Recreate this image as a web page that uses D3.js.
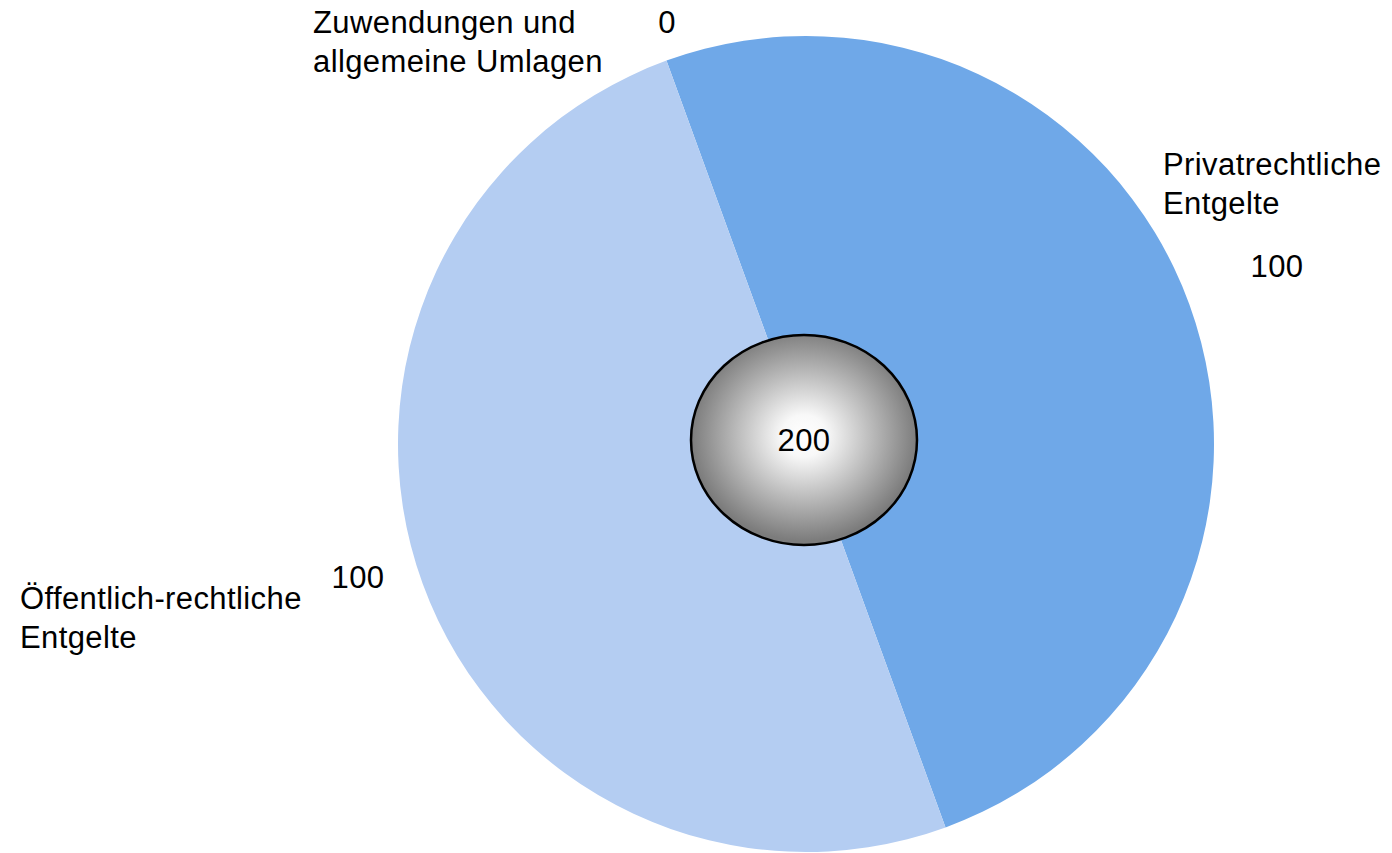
<!DOCTYPE html>
<html>
<head>
  <meta charset="utf-8">
  <title>Entgelte</title>
  <script src="https://cdnjs.cloudflare.com/ajax/libs/d3/7.8.5/d3.min.js"></script>
  <style>
    body { margin: 0; background: #fff; }
    svg { display: block; }
    text { font-family: "Liberation Sans", Arial, sans-serif; font-size: 31px; fill: #000; letter-spacing: 0.4px; }
  </style>
</head>
<body>
  <svg id="chart" width="1392" height="853"></svg>
  <script>
    // data
    const categories = ["Zuwendungen und allgemeine Umlagen", "Privatrechtliche Entgelte", "Öffentlich-rechtliche Entgelte"];
    const labelLines = [["Zuwendungen und", "allgemeine Umlagen"], ["Privatrechtliche", "Entgelte"], ["Öffentlich-rechtliche", "Entgelte"]];
    const values = [0, 100, 100];
    const colors = ["#4f81bd", "#6fa8e8", "#b4cdf2"];

    // where the Excel-style labels sit (name block and value)
    const labelLayout = [
      { nx: 313, ny: 33, vx: 667, vy: 33 },
      { nx: 1163, ny: 175, vx: 1277, vy: 277 },
      { nx: 20, ny: 609, vx: 358, vy: 588 }
    ];

    const cx = 806, cy = 444, r = 408;
    const svg = d3.select('#chart');

    const deg = Math.PI / 180;
    const pie = d3.pie().sort(null).value(d => d)
      .startAngle(-20 * deg).endAngle(340 * deg);
    const arc = d3.arc().innerRadius(0).outerRadius(r);

    const g = svg.append('g').attr('transform', `translate(${cx},${cy})`);
    g.selectAll('path')
      .data(pie(values))
      .join('path')
      .attr('d', arc)
      .attr('fill', (d, i) => colors[i]);

    // labels
    const lab = svg.append('g');
    labelLayout.forEach((p, i) => {
      const t = lab.append('text').attr('x', p.nx).attr('y', p.ny);
      labelLines[i].forEach((line, j) => {
        t.append('tspan').attr('x', p.nx).attr('dy', j === 0 ? 0 : 39).text(line);
      });
      lab.append('text').attr('x', p.vx).attr('y', p.vy)
        .attr('text-anchor', 'middle').text(values[i]);
    });

    // centre bubble with total
    const defs = svg.append('defs');
    const grad = defs.append('radialGradient').attr('id', 'ball')
      .attr('cx', '50%').attr('cy', '48%').attr('r', '50%');
    grad.append('stop').attr('offset', '0%').attr('stop-color', '#ffffff');
    grad.append('stop').attr('offset', '20%').attr('stop-color', '#f8f8f8');
    grad.append('stop').attr('offset', '60%').attr('stop-color', '#bababa');
    grad.append('stop').attr('offset', '100%').attr('stop-color', '#7c7c7c');

    svg.append('ellipse')
      .attr('cx', 804).attr('cy', 440).attr('rx', 113).attr('ry', 105)
      .attr('fill', 'url(#ball)')
      .attr('stroke', '#000').attr('stroke-width', 2.5);

    svg.append('text')
      .attr('x', 804).attr('y', 451)
      .attr('text-anchor', 'middle')
      .text(d3.sum(values));
  </script>
</body>
</html>
